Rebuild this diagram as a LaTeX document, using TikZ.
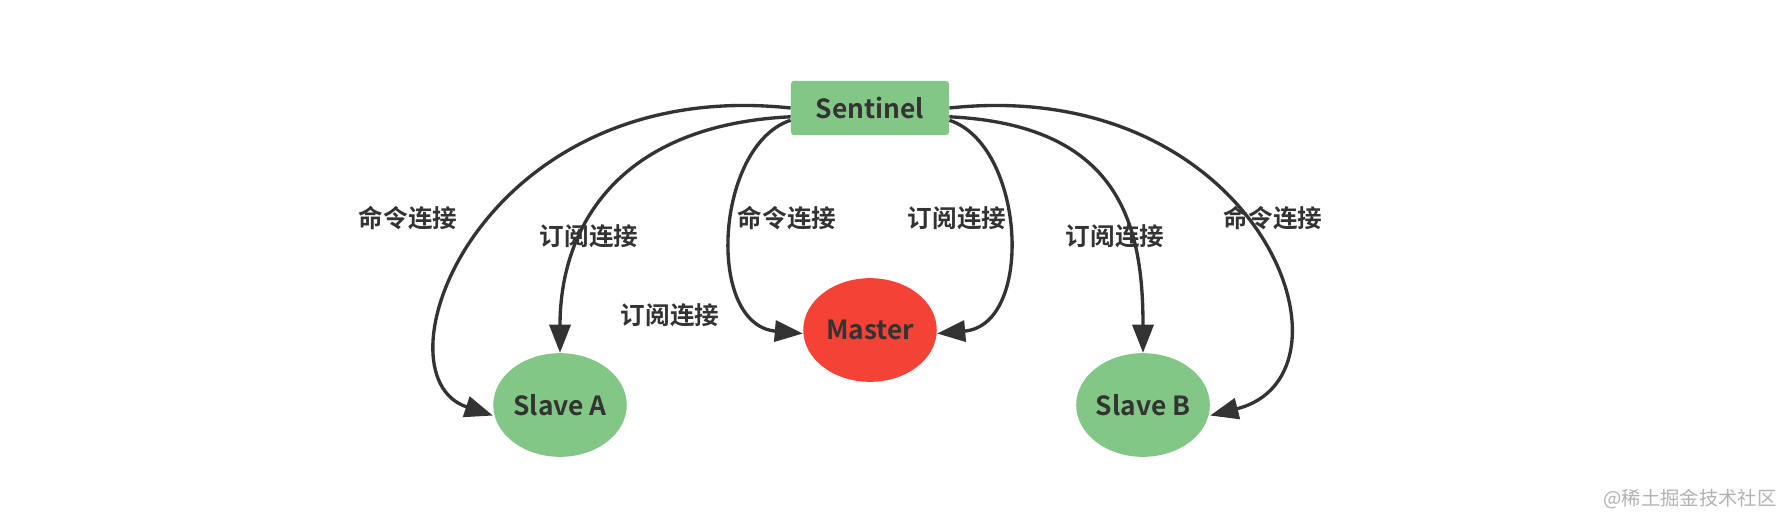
\documentclass[tikz,border=0pt]{standalone}
\usepackage{fontspec}
\setmainfont{Noto Sans CJK SC}[BoldFont={* Bold}]
\usetikzlibrary{arrows.meta, positioning, shapes.geometric}
\definecolor{nodegreen}{HTML}{82C785}
\definecolor{masterred}{HTML}{F44336}
\definecolor{ink}{HTML}{333333}
\tikzstyle{block} = [inner sep=0pt, text=ink, font=\fontsize{15}{17}\selectfont\bfseries]
\tikzstyle{sentinel} = [block, rectangle, rounded corners=2pt, fill=nodegreen, minimum width=90pt, minimum height=31pt]
\tikzstyle{slave} = [block, ellipse, fill=nodegreen, minimum width=76pt, minimum height=59pt]
\tikzstyle{master} = [slave, fill=masterred]
\tikzstyle{label} = [text=ink, font=\fontsize{14}{16}\selectfont\bfseries]
\tikzstyle{path} = [-{Triangle[length=16pt, width=12pt]}, line width=1.9pt, draw=ink]
\begin{document}
\begin{tikzpicture}[x=0.02cm, y=0.02cm]
    \useasboundingbox (0,0) rectangle (1790,525);

    % Nodes.
    \node (sentinel) [sentinel] at (870,417) {Sentinel};
    \node (master) [master] at (870,195) {Master};
    \node (slave a) [slave] at (560,120) {Slave A};
    \node (slave b) [slave] at (1143,120) {Slave B};

    % Arrows.
    \draw [path] (sentinel.west) .. controls (480,450) and (370,150) .. ([yshift=-6pt]slave a.west);
    \draw [path] ([yshift=-5pt]sentinel.west) .. controls (620,400) and (560,300) .. (slave a.north);
    \draw [path] ([yshift=-7pt]sentinel.west) .. controls (715,380) and (705,200) .. ([yshift=-2pt]master.west);
    \draw [path] ([yshift=-7pt]sentinel.east) .. controls (1025,380) and (1035,200) .. ([yshift=-2pt]master.east);
    \draw [path] ([yshift=-5pt]sentinel.east) .. controls (1120,400) and (1143,300) .. (slave b.north);
    \draw [path] (sentinel.east) .. controls (1260,450) and (1370,150) .. ([yshift=-6pt]slave b.east);

    % Labels.
    \foreach\x/\y/\t in {408/307/命令连接, 589/289/订阅连接, 670/210/订阅连接, 787/307/命令连接,
                          957/307/订阅连接, 1115/289/订阅连接, 1273/307/命令连接} {
        \node [label] at (\x,\y) {\t};
    }

    \node (mark) [text=gray!60, font=\fontsize{11}{13}\selectfont] at (1690,26) {@稀土掘金技术社区};
\end{tikzpicture}
\end{document}
